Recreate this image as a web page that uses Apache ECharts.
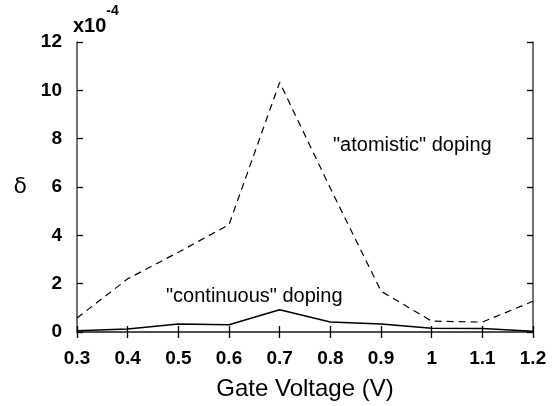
<!DOCTYPE html>
<html>
<head>
<meta charset="utf-8">
<script src="https://cdn.jsdelivr.net/npm/echarts@6/dist/echarts.min.js"></script>
<style>
  html, body { margin: 0; padding: 0; background: #fff; }
  #chart { width: 557px; height: 406px; }
</style>
</head>
<body>
<div id="chart"></div>
<script>
// gate voltage (V)
const voltages = [0.3, 0.4, 0.5, 0.6, 0.7, 0.8, 0.9, 1.0, 1.1, 1.2]
// delta, in units of 1e-4
const atomistic = [0.58, 2.2, 3.3, 4.44, 10.33, 5.95, 1.69, 0.45, 0.41, 1.27]
const continuous = [0.05, 0.12, 0.33, 0.3, 0.92, 0.41, 0.33, 0.16, 0.14, 0.03]

const font = 'Liberation Sans, Arial, Helvetica, sans-serif'

const chart = echarts.init(document.getElementById('chart'))

function pairs(ys) {
  return voltages.map((v, i) => [v, ys[i]])
}

const axisLine = { show: true, lineStyle: { color: '#444', width: 1.5 } }
const axisTick = { show: true, inside: true, length: 6, lineStyle: { color: '#000', width: 1.3 } }

const option = {
  animation: false,
  backgroundColor: '#fff',
  grid: { left: 77, right: 24, top: 42, bottom: 72 },
  xAxis: [
    {
      type: 'value',
      min: 0.3,
      max: 1.2,
      interval: 0.1,
      name: 'Gate Voltage (V)',
      nameLocation: 'middle',
      nameGap: 45,
      nameTextStyle: { fontFamily: font, fontSize: 24, color: '#000' },
      axisLine: axisLine,
      axisTick: axisTick,
      splitLine: { show: false },
      axisLabel: {
        margin: 17,
        color: '#000',
        fontFamily: font,
        fontWeight: 'bold',
        fontSize: 19,
        formatter: v => String(Math.round(v * 10) / 10)
      }
    },
    {
      type: 'value',
      position: 'top',
      min: 0.3,
      max: 1.2,
      interval: 0.1,
      axisLine: axisLine,
      axisTick: axisTick,
      axisLabel: { show: false },
      splitLine: { show: false }
    }
  ],
  yAxis: [
    {
      type: 'value',
      min: 0,
      max: 12,
      interval: 2,
      name: 'δ',
      nameLocation: 'middle',
      nameRotate: 0,
      nameGap: 50,
      nameTextStyle: {
        fontFamily: 'DejaVu Sans, sans-serif',
        fontSize: 22,
        color: '#000',
        padding: [0, 0, 20, 0]
      },
      axisLine: axisLine,
      axisTick: axisTick,
      splitLine: { show: false },
      axisLabel: {
        margin: 15,
        color: '#000',
        fontFamily: font,
        fontWeight: 'bold',
        fontSize: 19
      }
    },
    {
      type: 'value',
      position: 'right',
      min: 0,
      max: 12,
      interval: 2,
      axisLine: axisLine,
      axisTick: axisTick,
      axisLabel: { show: false },
      splitLine: { show: false }
    }
  ],
  graphic: [
    {
      type: 'text',
      left: 73,
      top: 4,
      style: {
        text: '{b|x10}{s|-4}',
        rich: {
          b: { fontFamily: font, fontWeight: 'bold', fontSize: 20, fill: '#000', padding: [12, 0, 0, 0] },
          s: { fontFamily: font, fontWeight: 'bold', fontSize: 14, fill: '#000', verticalAlign: 'top' }
        }
      }
    },
    {
      type: 'text',
      left: 333,
      top: 135,
      style: { text: '"atomistic" doping', fontFamily: font, fontSize: 20, fill: '#000' }
    },
    {
      type: 'text',
      left: 166,
      top: 286,
      style: { text: '"continuous" doping', fontFamily: font, fontSize: 20, fill: '#000' }
    }
  ],
  series: [
    {
      name: 'atomistic',
      type: 'line',
      data: pairs(atomistic),
      symbol: 'none',
      lineStyle: { color: '#000', width: 1.2, type: [7, 5] }
    },
    {
      name: 'continuous',
      type: 'line',
      data: pairs(continuous),
      symbol: 'none',
      lineStyle: { color: '#000', width: 1.5 }
    }
  ]
}

chart.setOption(option)
</script>
</body>
</html>
